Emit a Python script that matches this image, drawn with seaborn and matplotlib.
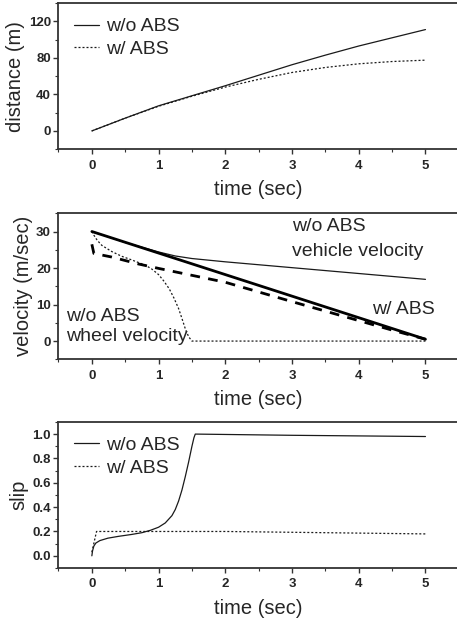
import matplotlib
matplotlib.use("Agg")
import matplotlib.pyplot as plt
import seaborn as sns
import numpy as np
import pandas as pd
from matplotlib.ticker import MultipleLocator

# ---------------- data ----------------
# distance panel
dist_t = [0, 0.5, 1, 1.5, 2, 2.5, 3, 3.5, 4, 4.5, 5]
dist_wo_abs = [0, 14, 27.5, 38.5, 49.5, 61, 72.5, 83, 93, 102, 111]
dist_w_abs = [0, 14, 27, 38, 48, 56.5, 64, 69.5, 73.5, 76, 77.5]

# velocity panel
veh_wo_t = [0, 0.5, 1, 1.25, 1.5, 2, 3, 4, 5]
veh_wo_v = [30, 27, 24.4, 23.3, 22.6, 21.7, 20.1, 18.5, 16.9]
veh_w_t = [0, 1, 2, 3, 4, 5]
veh_w_v = [30, 24.1, 18.2, 12.3, 6.4, 0.5]
whl_w_t = [0, 0.03, 0.3, 0.7, 1, 1.5, 2, 3, 4, 4.5, 5]
whl_w_v = [26.5, 24, 23, 21.1, 19.9, 18, 16.1, 10.8, 5.6, 3, 0.5]
whl_wo_t = [0, 0.03, 0.08, 0.15, 0.3, 0.45, 0.6, 0.8, 0.9, 1.0, 1.08, 1.16,
            1.23, 1.3, 1.35, 1.4, 1.45, 1.5, 2, 3, 4, 5]
whl_wo_v = [30, 29, 27.6, 26.2, 24.5, 23.2, 22.2, 20.8, 19.7, 18.2, 16.4, 14.3,
            11.8, 8.9, 6.2, 3.4, 1.2, 0, 0, 0, 0, 0]

# slip panel
slip_wo_t = [0, 0.01, 0.03, 0.06, 0.12, 0.24, 0.4, 0.59, 0.75, 0.88, 1.0, 1.1,
             1.2, 1.25, 1.3, 1.35, 1.4, 1.45, 1.5, 1.53, 1.55, 3, 5]
slip_wo_s = [0.0, 0.04, 0.08, 0.105, 0.125, 0.145, 0.16, 0.175, 0.19, 0.21, 0.235, 0.27,
             0.33, 0.38, 0.45, 0.54, 0.65, 0.77, 0.9, 0.97, 1.0, 0.99, 0.98]
slip_w_t = [0, 0.07, 2, 5]
slip_w_s = [0.03, 0.2, 0.2, 0.18]

labels = ["w/o ABS", "w/ ABS"]

# ---------------- style ----------------
sns.set_style("ticks")
plt.rcParams['font.family'] = ['Liberation Sans', 'DejaVu Sans']

fig = plt.figure(figsize=(4.57, 6.19), dpi=100)
L, W, H = 0.128, 0.876, 0.236
ax1 = fig.add_axes([L, 0.759, W, H])
ax2 = fig.add_axes([L, 0.4195, W, H])
ax3 = fig.add_axes([L, 0.0824, W, H])

thin = dict(color='#1a1a1a', linewidth=0.9, estimator=None, sort=False)
dots = (0, (1.6, 1.6))

# distance
sns.lineplot(x=dist_t, y=dist_wo_abs, ax=ax1, label=labels[0], **thin)
sns.lineplot(x=dist_t, y=dist_w_abs, ax=ax1, label=labels[1], linestyle=dots, **thin)

# velocity
sns.lineplot(x=veh_wo_t, y=veh_wo_v, ax=ax2, **thin)
sns.lineplot(x=whl_wo_t, y=whl_wo_v, ax=ax2, linestyle=dots, **thin)
sns.lineplot(x=veh_w_t, y=veh_w_v, ax=ax2, color='k', linewidth=2.0, estimator=None, sort=False)
sns.lineplot(x=whl_w_t, y=whl_w_v, ax=ax2, color='k', linewidth=2.0, linestyle=(0, (3.5, 3)),
             estimator=None, sort=False)

# slip
sns.lineplot(x=slip_wo_t, y=slip_wo_s, ax=ax3, label=labels[0], **thin)
sns.lineplot(x=slip_w_t, y=slip_w_s, ax=ax3, label=labels[1], linestyle=dots, **thin)

# annotations in velocity panel
tfs = 14
ax2.text(3.0, 31.4, "w/o ABS", fontsize=tfs, va='center', ha='left')
ax2.text(3.0, 24.6, "vehicle velocity", fontsize=tfs, va='center', ha='left')
ax2.text(4.2, 8.7, "w/ ABS", fontsize=tfs, va='center', ha='left')
ax2.text(-0.39, 6.7, "w/o ABS", fontsize=tfs, va='center', ha='left')
ax2.text(-0.39, 1.2, "wheel velocity", fontsize=tfs, va='center', ha='left')

# axes formatting
ylims = [(-20, 140), (-5, 35), (-0.1, 1.1)]
ymaj = [40, 10, 0.2]
ymin = [20, 5, 0.1]
ylabels = ["distance (m)", "velocity (m/sec)", "slip"]
for ax, yl, ma, mi, lab in zip([ax1, ax2, ax3], ylims, ymaj, ymin, ylabels):
    ax.set_xlim(-0.5, 5.5)
    ax.set_ylim(*yl)
    ax.xaxis.set_major_locator(MultipleLocator(1))
    ax.xaxis.set_minor_locator(MultipleLocator(0.5))
    ax.yaxis.set_major_locator(MultipleLocator(ma))
    ax.yaxis.set_minor_locator(MultipleLocator(mi))
    if lab == "slip":
        ax.set_yticks([0.0, 0.2, 0.4, 0.6, 0.8, 1.0])
        ax.set_yticklabels(["0.0", "0.2", "0.4", "0.6", "0.8", "1.0"])
    ax.set_xlabel("time (sec)", fontsize=14.5, labelpad=6)
    ax.set_ylabel(lab, fontsize=14.5, labelpad=2.5)
    for s in ax.spines.values():
        s.set_visible(True)
        s.set_linewidth(1.3)
        s.set_color('#333333')
    ax.tick_params(axis='both', which='major', direction='out', length=3.5, width=1,
                   labelsize=9.5, pad=2, color='#333333')
    ax.tick_params(axis='both', which='minor', direction='out', length=2, width=0.8,
                   color='#333333')
    ax.tick_params(axis='x', which='major', pad=4)
    for t in ax.get_xticklabels() + ax.get_yticklabels():
        t.set_fontweight('bold')
    ax.grid(False)

for ax in (ax1, ax3):
    ax.legend(loc='upper left', bbox_to_anchor=(0.038, 0.9), frameon=False,
              fontsize=14, handlelength=1.3, handletextpad=0.35, labelspacing=0.25,
              borderpad=0, borderaxespad=0)

fig.savefig("out.png", dpi=100)
